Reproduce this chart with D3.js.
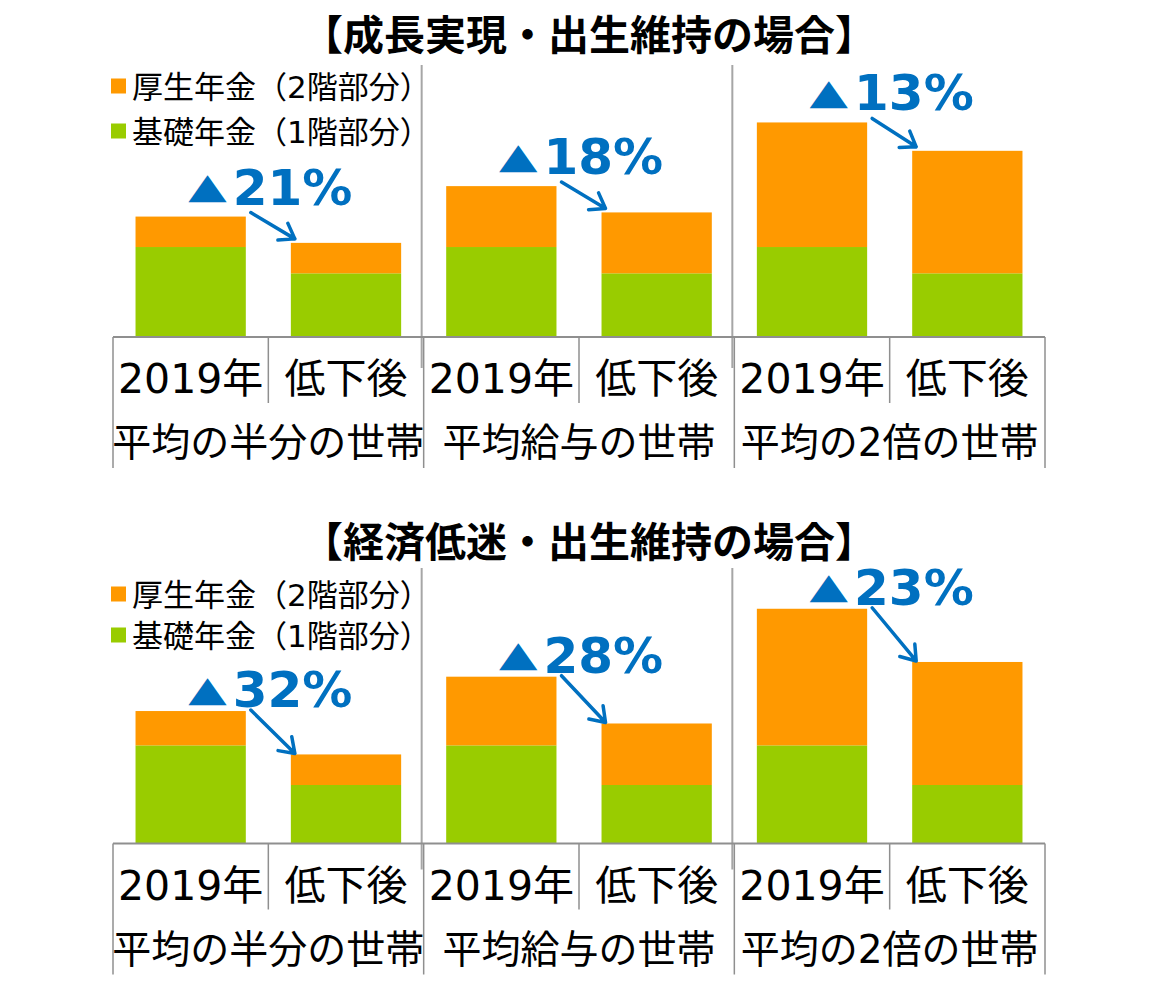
<!DOCTYPE html>
<html><head><meta charset="utf-8">
<script src="https://cdn.jsdelivr.net/npm/d3@7"></script>
<style>
html,body{margin:0;padding:0;background:#fff;}
svg{display:block;}
</style></head>
<body><div id="chart"></div>
<script>
// ---------- data ----------
const groups = ["平均の半分の世帯", "平均給与の世帯", "平均の2倍の世帯"];
const periods = ["2019年", "低下後"];
const seriesNames = ["厚生年金（2階部分）", "基礎年金（1階部分）"];
const seriesKeys = ["kiso", "kosei"];

// 成長実現・出生維持 (per group: [2019年, 低下後])
const growthKiso  = [[13.0, 9.2], [13.0, 9.2], [13.0, 9.2]];
const growthKosei = [[4.4, 4.4], [8.8, 8.8], [18.0, 17.7]];
const growthDrop  = ["21%", "18%", "13%"];

// 経済低迷・出生維持
const lowKiso  = [[13.0, 7.75], [13.0, 7.75], [13.0, 7.75]];
const lowKosei = [[4.55, 4.05], [9.1, 8.15], [18.1, 16.3]];
const lowDrop  = ["32%", "28%", "23%"];

const titles = ["【成長実現・出生維持の場合】", "【経済低迷・出生維持の場合】"];
const dropMark = "▲";

// ---------- layout ----------
const W = 1160, H = 993;
const colors = { kiso: "#99CC00", kosei: "#FF9900" };
const blue = "#0070C0";
const latinCjk = "'DejaVu Sans','Noto Sans CJK JP',sans-serif";

const panels = [
  { title: titles[0], titleBase: 50, plotTop: 65, axisY: 337, yMax: 39.3,
    kiso: growthKiso, kosei: growthKosei, drops: growthDrop,
    legendBase: [86, 131], labelGap: 12, arrowGap: 4, sepExt: 31 },
  { title: titles[1], titleBase: 557, plotTop: 568, axisY: 843.5, yMax: 36.5,
    kiso: lowKiso, kosei: lowKosei, drops: lowDrop,
    legendBase: [594, 635], labelGap: 4, arrowGap: 1, sepExt: 26 }
];

const svg = d3.select("#chart").append("svg")
  .attr("width", W).attr("height", H)
  .attr("viewBox", `0 0 ${W} ${H}`);
svg.append("rect").attr("width", W).attr("height", H).attr("fill", "#fff");

const xg = d3.scaleBand().domain(groups).range([113, 1045]);
const xp = d3.scaleBand().domain(periods).range([0, xg.bandwidth()])
  .paddingInner(0.29).paddingOuter(0.145);

panels.forEach(p => {
  const g = svg.append("g");
  const y = d3.scaleLinear().domain([0, p.yMax]).range([p.axisY, p.plotTop]);

  // title
  g.append("text").attr("x", 589).attr("y", p.titleBase)
    .attr("text-anchor", "middle")
    .attr("font-family", "'Noto Sans CJK JP',sans-serif")
    .attr("font-weight", 700).attr("font-size", 41).attr("fill", "#000")
    .text(p.title);

  // separators between groups (in plot area)
  groups.slice(1).forEach(gr => {
    g.append("line")
      .attr("x1", xg(gr) - 2).attr("x2", xg(gr) - 2)
      .attr("y1", p.plotTop).attr("y2", p.axisY + p.sepExt)
      .attr("stroke", "#a6a6a6").attr("stroke-width", 2);
  });

  // stacked bars
  const rows = [];
  groups.forEach((gr, i) => periods.forEach((pe, j) => {
    rows.push({ group: gr, period: pe, kiso: p.kiso[i][j], kosei: p.kosei[i][j] });
  }));
  const stacked = d3.stack().keys(seriesKeys)(rows);
  stacked.forEach(layer => {
    g.append("g").attr("fill", colors[layer.key])
      .selectAll("rect").data(layer).join("rect")
      .attr("x", d => xg(d.data.group) + xp(d.data.period))
      .attr("width", xp.bandwidth())
      .attr("y", d => y(d[1]))
      .attr("height", d => y(d[0]) - y(d[1]));
  });

  // category axis (table-like)
  const axisColor = "#8f8f8f";
  g.append("line").attr("x1", xg.range()[0]).attr("x2", xg.range()[1])
    .attr("y1", p.axisY).attr("y2", p.axisY)
    .attr("stroke", axisColor).attr("stroke-width", 2);
  const bounds = groups.map(gr => xg(gr)).concat([xg.range()[1]]);
  bounds.forEach(bx => {
    g.append("line").attr("x1", bx).attr("x2", bx)
      .attr("y1", p.axisY).attr("y2", p.axisY + 131)
      .attr("stroke", axisColor).attr("stroke-width", 1.5);
  });
  groups.forEach(gr => {
    const mx = xg(gr) + xg.bandwidth() / 2;
    g.append("line").attr("x1", mx).attr("x2", mx)
      .attr("y1", p.axisY).attr("y2", p.axisY + 66)
      .attr("stroke", axisColor).attr("stroke-width", 1.5);
    periods.forEach(pe => {
      g.append("text")
        .attr("x", xg(gr) + xp(pe) + xp.bandwidth() / 2)
        .attr("y", p.axisY + 56)
        .attr("text-anchor", "middle")
        .attr("font-family", latinCjk).attr("font-size", 41).attr("fill", "#000")
        .text(pe);
    });
    g.append("text")
      .attr("x", mx).attr("y", p.axisY + 119)
      .attr("text-anchor", "middle")
      .attr("font-family", latinCjk).attr("font-size", 39).attr("fill", "#000")
      .text(gr);
  });

  // legend
  const legendKeys = ["kosei", "kiso"];
  legendKeys.forEach((k, i) => {
    const cy = p.legendBase[i];
    g.append("rect").attr("x", 111).attr("y", cy - 7.5)
      .attr("width", 15).attr("height", 15).attr("fill", colors[k]);
    g.append("text").attr("x", 132).attr("y", cy + 12)
      .attr("font-family", latinCjk).attr("font-size", 31).attr("fill", "#000")
      .text(seriesNames[i]);
  });

  // drop annotations + arrows
  groups.forEach((gr, i) => {
    const t1 = p.kiso[i][0] + p.kosei[i][0];
    const t2 = p.kiso[i][1] + p.kosei[i][1];
    const mx = xg(gr) + xg.bandwidth() / 2 + 2;
    const base = y(t1) - p.labelGap;

    const tri = g.append("text")
      .attr("font-family", "'DejaVu Sans',sans-serif")
      .attr("font-weight", 700).attr("font-size", 50).attr("fill", blue)
      .text(dropMark);
    const num = g.append("text")
      .attr("font-family", "'DejaVu Sans',sans-serif")
      .attr("font-weight", 700).attr("font-size", 50).attr("fill", blue)
      .text(p.drops[i]);
    const tw = tri.node().getComputedTextLength();
    const nw = num.node().getComputedTextLength();
    const gap = 6;
    const lx = mx - (tw + gap + nw) / 2;
    tri.attr("transform", `translate(${lx},${base - 6.5}) scale(1,0.71)`);
    num.attr("x", lx + tw + gap).attr("y", base);

    const sx = xg(gr) + xp(periods[0]) + xp.bandwidth() + 5;
    const sy = y(t1) - p.arrowGap;
    const ex = xg(gr) + xp(periods[1]) + 4;
    const ey = y(t2) - p.arrowGap;
    const ang = Math.atan2(ey - sy, ex - sx);
    const L = 17, a = 35 * Math.PI / 180;
    const w1 = [ex - L * Math.cos(ang - a), ey - L * Math.sin(ang - a)];
    const w2 = [ex - L * Math.cos(ang + a), ey - L * Math.sin(ang + a)];
    const path = d3.path();
    path.moveTo(sx, sy); path.lineTo(ex, ey);
    path.moveTo(w1[0], w1[1]); path.lineTo(ex, ey); path.lineTo(w2[0], w2[1]);
    g.append("path").attr("d", path.toString())
      .attr("fill", "none").attr("stroke", blue).attr("stroke-width", 3.5)
      .attr("stroke-linecap", "round").attr("stroke-linejoin", "round");
  });
});
</script>
</body></html>
